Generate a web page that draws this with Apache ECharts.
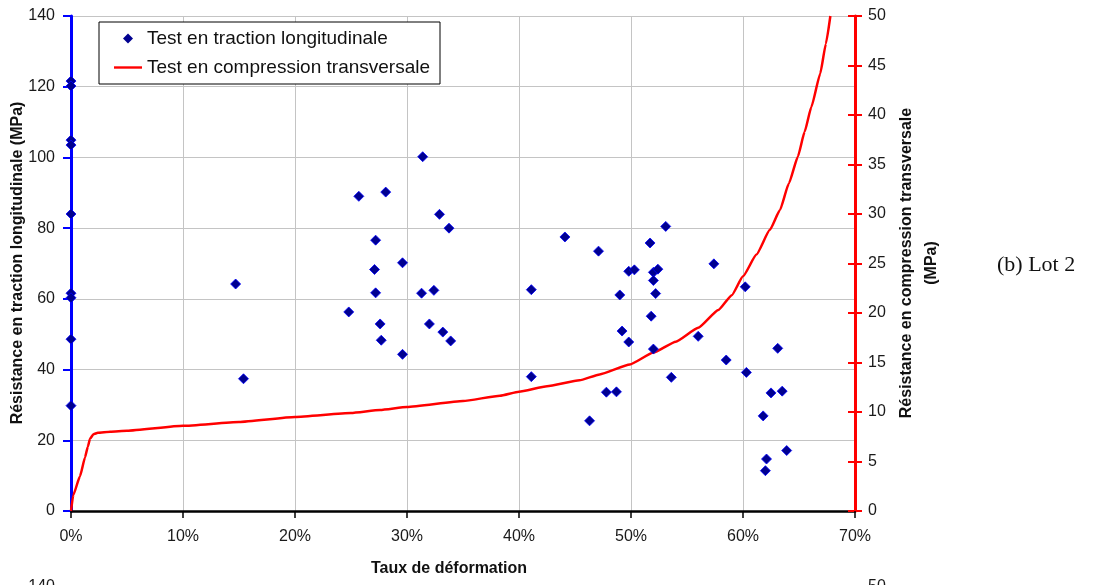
<!DOCTYPE html>
<html>
<head>
<meta charset="utf-8">
<script src="https://cdn.jsdelivr.net/npm/echarts@6/dist/echarts.min.js"></script>
<style>
  html, body { margin: 0; padding: 0; background: #fff; }
  #chart { width: 1098px; height: 585px; }
</style>
</head>
<body>
<div id="chart"></div>
<script>
// Test en traction longitudinale (axe gauche, MPa)
var tractionStrain = [0, 0, 0, 0, 0, 0, 0, 0, 0,
    14.7, 15.4,
    24.8, 25.7, 27.2, 27.1, 27.2, 27.6, 27.7, 28.1, 29.6, 29.6, 31.4, 31.3, 32.0, 32.4, 32.9, 33.2, 33.75, 33.9,
    41.1, 41.1, 44.1, 46.3, 47.1, 47.8, 48.7, 49.0, 49.2, 49.8, 49.8, 50.3, 51.7, 51.8, 52.0, 52.0, 52.0, 52.2, 52.4,
    53.1, 53.6, 56.0, 57.4, 58.5, 60.2, 60.3, 61.8, 62.0, 62.1, 62.5, 63.1, 63.5, 63.9];
var tractionStress = [121.6, 120.2, 104.9, 103.5, 84.0, 61.6, 60.3, 48.6, 29.8,
    64.2, 37.4,
    56.3, 89.0, 76.6, 68.3, 61.7, 52.9, 48.3, 90.2, 70.2, 44.3, 100.2, 61.6, 52.9, 62.4, 83.9, 50.6, 80.0, 48.1,
    62.6, 38.0, 77.5, 25.5, 73.5, 33.6, 33.7, 61.1, 50.9, 67.8, 47.8, 68.2, 75.8, 55.1, 67.5, 65.2, 45.8, 61.5, 68.4,
    80.5, 37.8, 49.4, 69.9, 42.7, 63.4, 39.2, 26.9, 11.4, 14.7, 33.4, 46.0, 33.9, 17.1];

// Test en compression transversale (axe droit, MPa)
var compStrain = [0, 0.2, 0.8, 1.25, 1.5, 1.7, 2.0, 2.4, 3.5, 5, 10, 15, 20, 25, 27.6, 30, 35, 38.3, 40, 42.5, 45.4,
    47.2, 49.9, 52.0, 54.0, 56.0, 57.8, 59.0, 60.0, 61.2, 62.4, 63.3, 64.1, 64.9, 65.5, 66.1, 66.9, 67.4, 67.8];
var compStress = [0, 1.6, 3.5, 5.4, 6.5, 7.3, 7.75, 7.9, 8.0, 8.1, 8.6, 9.0, 9.5, 9.9, 10.2, 10.5, 11.1, 11.65, 12.05, 12.6, 13.2,
    13.8, 14.8, 16.0, 17.1, 18.5, 20.3, 21.8, 23.7, 25.9, 28.4, 30.4, 33.1, 35.8, 38.3, 40.8, 44.2, 47.2, 50.0];

var xTicks = [0, 10, 20, 30, 40, 50, 60, 70];      // %
var leftTicks = [0, 20, 40, 60, 80, 100, 120, 140];
var rightTicks = [0, 5, 10, 15, 20, 25, 30, 35, 40, 45, 50];

var FONT = 'Liberation Sans, Arial, sans-serif';

var tractionData = tractionStrain.map(function (x, i) { return [x, tractionStress[i]]; });
var compData = compStrain.map(function (x, i) { return [x, compStress[i]]; });

// icônes de légende (points fantômes pour garder la boîte 28x10)
var iconDiamond = 'path://M0,0L0,0M14,0L19,5L14,10L9,5ZM28,10L28,10';
var iconLine = 'path://M0,0L0,0M0,3.8L28,3.8L28,6.2L0,6.2ZM28,10L28,10';

var chart = echarts.init(document.getElementById('chart'));

var gridBox = { left: 71, right: 243, top: 16, bottom: 74, containLabel: false };

var option = {
    animation: false,
    backgroundColor: '#fff',
    textStyle: { fontFamily: FONT },
    grid: [gridBox, gridBox],
    legend: {
        orient: 'vertical',
        left: 99,
        top: 22,
        padding: [7, 10, 7, 15],
        itemGap: 10,
        itemWidth: 28,
        itemHeight: 10,
        backgroundColor: '#fff',
        borderColor: '#000',
        borderWidth: 1,
        borderRadius: 0,
        textStyle: { fontFamily: FONT, fontSize: 19, color: '#111', lineHeight: 18 },
        data: [
            { name: 'Test en traction longitudinale', icon: iconDiamond,
              itemStyle: { color: '#000090', borderWidth: 0 } },
            { name: 'Test en compression transversale', icon: iconLine,
              itemStyle: { color: '#ff0000', borderWidth: 0 } }
        ]
    },
    xAxis: [{
        type: 'value',
        gridIndex: 0,
        min: xTicks[0],
        max: xTicks[xTicks.length - 1],
        interval: 10,
        axisLine: { onZero: false, lineStyle: { color: '#000', width: 2.5 } },
        axisTick: { show: true, length: 7, lineStyle: { color: '#000', width: 1.5 } },
        axisLabel: { margin: 18, fontSize: 16, color: '#1a1a1a', fontFamily: FONT, formatter: '{value}%' },
        splitLine: { show: true, lineStyle: { color: '#c4c4c4', width: 1 } }
    }, {
        type: 'value',
        gridIndex: 1,
        min: xTicks[0],
        max: xTicks[xTicks.length - 1],
        axisLine: { show: false, onZero: false },
        axisTick: { show: false },
        axisLabel: { show: false },
        splitLine: { show: false }
    }],
    yAxis: [{
        type: 'value',
        gridIndex: 0,
        position: 'left',
        min: leftTicks[0],
        max: leftTicks[leftTicks.length - 1],
        interval: 20,
        axisLine: { show: true, onZero: false, lineStyle: { color: '#0000ff', width: 3 } },
        axisTick: { show: true, length: 8, lineStyle: { color: '#0000ff', width: 2 } },
        axisLabel: { margin: 16, fontSize: 16, color: '#1a1a1a', fontFamily: FONT },
        splitLine: { show: true, lineStyle: { color: '#c4c4c4', width: 1 } }
    }, {
        type: 'value',
        gridIndex: 0,
        position: 'right',
        min: rightTicks[0],
        max: rightTicks[rightTicks.length - 1],
        interval: 5,
        axisLine: { show: true, onZero: false, lineStyle: { color: '#ff0000', width: 3 } },
        axisTick: { show: true, length: 7, lineStyle: { color: '#ff0000', width: 2 } },
        axisLabel: { margin: 13, fontSize: 16, color: '#1a1a1a', fontFamily: FONT },
        splitLine: { show: false }
    }, {
        // ticks croisés de l'axe droit (partie intérieure)
        type: 'value',
        gridIndex: 1,
        position: 'right',
        min: rightTicks[0],
        max: rightTicks[rightTicks.length - 1],
        interval: 5,
        axisLine: { show: false, onZero: false },
        axisTick: { show: true, inside: true, length: 7, lineStyle: { color: '#ff0000', width: 2 } },
        axisLabel: { show: false },
        splitLine: { show: false }
    }],
    series: [{
        name: 'Test en traction longitudinale',
        type: 'scatter',
        xAxisIndex: 0,
        yAxisIndex: 0,
        symbol: 'diamond',
        symbolSize: 10,
        itemStyle: { color: '#000090', borderColor: '#0000ff', borderWidth: 0.8, opacity: 1 },
        data: tractionData,
        z: 5
    }, {
        name: 'Test en compression transversale',
        type: 'line',
        xAxisIndex: 0,
        yAxisIndex: 1,
        symbol: 'none',
        showSymbol: false,
        smooth: 0.15,
        smoothMonotone: 'x',
        lineStyle: { color: '#ff0000', width: 2.5 },
        itemStyle: { color: '#ff0000' },
        data: compData,
        z: 4
    }],
    graphic: [{
        type: 'text',
        x: 18, y: 263,
        rotation: Math.PI / 2,
        style: {
            text: 'Résistance en traction longitudinale (MPa)',
            font: 'bold 16px ' + FONT, fill: '#111',
            align: 'center', verticalAlign: 'middle'
        }
    }, {
        type: 'text',
        x: 907, y: 263,
        rotation: Math.PI / 2,
        style: {
            text: 'Résistance en compression transversale',
            font: 'bold 16px ' + FONT, fill: '#111',
            align: 'center', verticalAlign: 'middle'
        }
    }, {
        type: 'text',
        x: 932, y: 263,
        rotation: Math.PI / 2,
        style: {
            text: '(MPa)',
            font: 'bold 16px ' + FONT, fill: '#111',
            align: 'center', verticalAlign: 'middle'
        }
    }, {
        type: 'text',
        x: 449, y: 569,
        style: {
            text: 'Taux de déformation',
            font: 'bold 16px ' + FONT, fill: '#111',
            align: 'center', verticalAlign: 'middle'
        }
    }, {
        type: 'text',
        x: 997, y: 265,
        style: {
            text: '(b) Lot 2',
            font: '22px Liberation Serif, serif', fill: '#111',
            align: 'left', verticalAlign: 'middle'
        }
    }, {
        // haut des libellés du graphique suivant, coupés par le bord
        type: 'text',
        x: 55, y: 579,
        style: { text: '140', font: '16px ' + FONT, fill: '#1a1a1a', align: 'right', verticalAlign: 'top' }
    }, {
        type: 'text',
        x: 868, y: 579,
        style: { text: '50', font: '16px ' + FONT, fill: '#1a1a1a', align: 'left', verticalAlign: 'top' }
    }]
};

chart.setOption(option);
</script>
</body>
</html>
